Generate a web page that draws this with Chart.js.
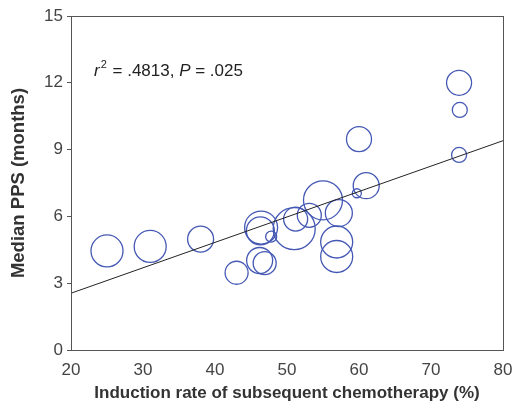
<!DOCTYPE html>
<html>
<head>
<meta charset="utf-8">
<script src="https://cdn.jsdelivr.net/npm/chart.js@4/dist/chart.umd.min.js"></script>
<style>
html,body{margin:0;padding:0;background:#fff;}
#wrap{width:512px;height:410px;}
</style>
</head>
<body>
<div id="wrap"><canvas id="c" width="512" height="410"></canvas></div>
<script>
// Data
const inductionRate = [25, 31, 38, 43, 46.2, 46.9, 46.4, 46.3, 47.8, 51.0, 51.2, 53.1, 55.0, 57.2, 56.9, 56.9, 59.7, 61.0, 60.0, 73.9, 74.0, 73.9];
const medianPPS     = [4.45, 4.65, 4.98, 3.47, 4.02, 3.9, 5.5, 5.35, 5.09, 5.45, 5.88, 6.05, 6.72, 6.15, 4.85, 4.2, 7.04, 7.38, 9.47, 12.0, 10.78, 8.76];
const bubbleSize    = [16, 16, 13, 11.5, 13, 11.5, 16.5, 14, 5.5, 21, 12, 12, 19.5, 13.5, 16, 16, 4.5, 13, 12.5, 12.5, 7.5, 7.5];
const fitX = [20, 80];
const fitY = [2.55, 9.4];
const yTicks = [0, 3, 6, 9, 12, 15];
const xTicks = [20, 30, 40, 50, 60, 70, 80];
const annotation = { r2: ".4813", p: ".025" };

const FONT = "'Liberation Sans', Arial, sans-serif";

const bubbles = inductionRate.map((x, i) => ({ x: x, y: medianPPS[i], r: bubbleSize[i] }));
const fitLine = fitX.map((x, i) => ({ x: x, y: fitY[i] }));

const noPadPlugin = {
  id: 'nopad',
  beforeLayout(chart) {
    Object.values(chart.scales).forEach(s => {
      s.getPadding = () => ({ left: 0, top: 0, right: 0, bottom: 0 });
    });
  }
};

const framePlugin = {
  id: 'frame',
  afterDraw(chart) {
    const { ctx, chartArea: a } = chart;
    ctx.save();
    ctx.strokeStyle = '#555';
    ctx.lineWidth = 1;
    ctx.strokeRect(Math.round(a.left) + 0.5, Math.round(a.top) + 0.5, Math.round(a.right - a.left), Math.round(a.bottom - a.top));
    // annotation text
    ctx.fillStyle = '#222';
    ctx.textBaseline = 'alphabetic';
    let x = a.left + 23, y = a.top + 60;
    ctx.font = "italic 17px " + FONT;
    ctx.fillText('r', x, y); x += ctx.measureText('r').width + 1;
    ctx.font = "11px " + FONT;
    ctx.fillText('2', x, y - 8); x += ctx.measureText('2').width + 1;
    ctx.font = "17px " + FONT;
    let s = ' = ' + annotation.r2 + ', ';
    ctx.fillText(s, x, y); x += ctx.measureText(s).width;
    ctx.font = "italic 17px " + FONT;
    ctx.fillText('P', x, y); x += ctx.measureText('P').width;
    ctx.font = "17px " + FONT;
    ctx.fillText(' = ' + annotation.p, x, y);
    ctx.restore();
  }
};

new Chart(document.getElementById('c'), {
  data: {
    datasets: [
      {
        type: 'line',
        data: fitLine,
        borderColor: '#222',
        borderWidth: 1,
        pointRadius: 0,
        fill: false,
        order: 0
      },
      {
        type: 'bubble',
        data: bubbles,
        borderColor: '#4458b4',
        backgroundColor: 'rgba(0,0,0,0)',
        borderWidth: 1.3,
        hoverRadius: 0,
        clip: false,
        order: 1
      }
    ]
  },
  options: {
    responsive: false,
    animation: false,
    events: [],
    layout: { autoPadding: false, padding: { top: 16, right: 9, left: 0, bottom: 0 } },
    plugins: { legend: { display: false }, tooltip: { enabled: false } },
    scales: {
      x: {
        type: 'linear',
        min: 20, max: 80,
        afterBuildTicks: (s) => { s.ticks = xTicks.map(v => ({ value: v })); },
        afterFit: (s) => { s.height = 60; s.paddingLeft = 0; s.paddingRight = 0; },
        grid: { display: false, drawTicks: false },
        border: { display: true, color: '#555' },
        ticks: { color: '#444', font: { family: FONT, size: 17 }, padding: 10 },
        title: { display: true, text: 'Induction rate of subsequent chemotherapy (%)', color: '#333',
                 font: { family: FONT, size: 17, weight: 'bold' }, padding: { top: 0, bottom: 6 } }
      },
      y: {
        type: 'linear',
        min: 0, max: 15,
        afterBuildTicks: (s) => { s.ticks = yTicks.map(v => ({ value: v })); },
        afterFit: (s) => { s.width = 71; s.paddingTop = 0; s.paddingBottom = 0; },
        grid: { display: true, drawOnChartArea: false, drawTicks: true, tickLength: 4, color: '#555' },
        border: { display: true, color: '#555' },
        ticks: { color: '#444', font: { family: FONT, size: 17 }, padding: 4 },
        title: { display: true, text: 'Median PPS (months)', color: '#333',
                 font: { family: FONT, size: 18.5, weight: 'bold' }, padding: { top: 8, bottom: 6 } }
      }
    }
  },
  plugins: [noPadPlugin, framePlugin]
});
</script>
</body>
</html>
